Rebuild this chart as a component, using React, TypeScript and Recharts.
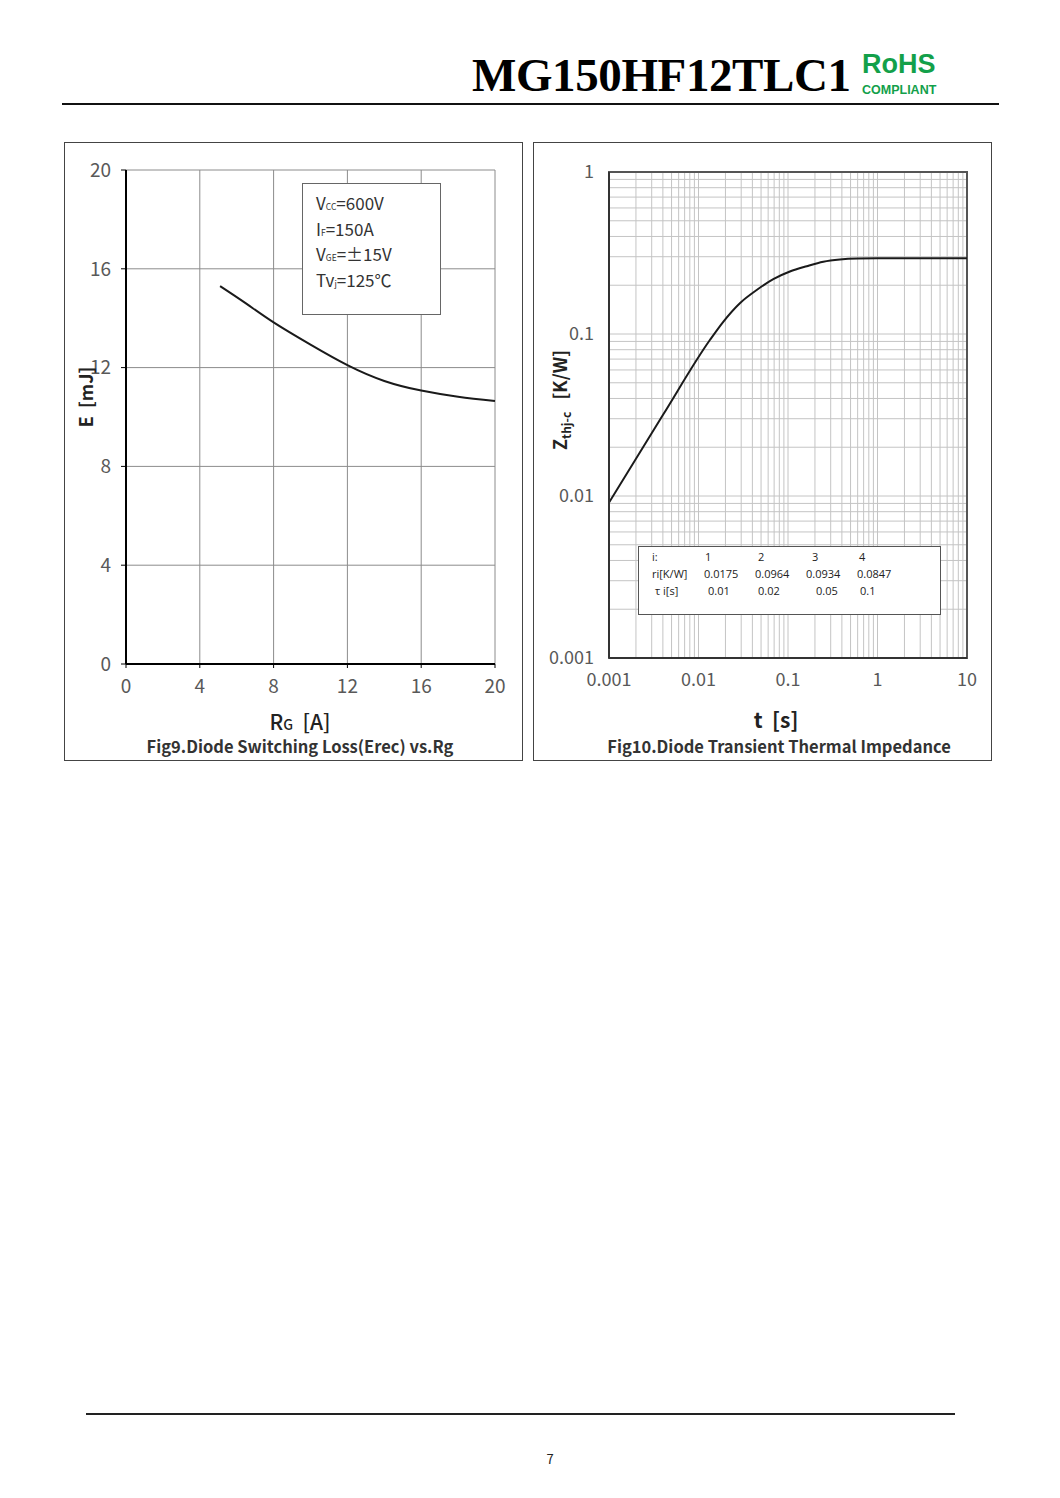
import React from "react"
import { CartesianGrid, Line, LineChart, ReferenceArea, XAxis, YAxis } from "recharts"

// Fig9 - diode switching loss vs gate resistance
const rgValues = [5.1, 6.5, 8, 10, 12, 14, 16, 18, 20]
const erecValues = [15.3, 14.6, 13.83, 12.93, 12.1, 11.46, 11.07, 10.82, 10.65]
const rgTicks = [0, 4, 8, 12, 16, 20]
const eTicks = [0, 4, 8, 12, 16, 20]

// Fig10 - transient thermal impedance
const timeValues = [0.001, 0.004, 0.0134, 0.0189, 0.029, 0.0447, 0.0685, 0.105, 0.162, 0.248, 0.38, 0.6, 1, 10]
const zthValues = [0.0091, 0.0316, 0.0918, 0.119, 0.155, 0.187, 0.218, 0.243, 0.262, 0.279, 0.288, 0.292, 0.293, 0.293]
const timeDecades = [0.001, 0.01, 0.1, 1, 10]
const zthDecades = [0.001, 0.01, 0.1, 1]
const logSteps = [1, 2, 3, 4, 5, 6, 7, 8, 9]

const tableIndex = ["1", "2", "3", "4"]
const tableR = ["0.0175", "0.0964", "0.0934", "0.0847"]
const tableTau = ["0.01", "0.02", "0.05", "0.1"]

const fig9Data = rgValues.map((rg, i) => ({ rg, e: erecValues[i] }))
const fig10Data = timeValues.map((t, i) => ({ t, z: zthValues[i] }))

const minorTicks = (decades: number[]) =>
  decades
    .slice(0, -1)
    .flatMap((d) => logSteps.map((s) => Number((d * s).toPrecision(3))))
    .concat(decades[decades.length - 1])

const timeTicks = minorTicks(timeDecades)
const zthTicks = minorTicks(zthDecades)

const SANS = "'Noto Sans CJK SC', 'Noto Sans', sans-serif"
const tickStyle = { fill: "#595959", fontSize: 18, fontFamily: SANS }

function Txt({ x, y, children, style }: any) {
  return (
    <div
      style={{
        position: "absolute",
        left: x,
        top: y,
        transform: "translate(-50%, -50%)",
        whiteSpace: "nowrap",
        lineHeight: 1,
        fontFamily: SANS,
        ...style,
      }}
    >
      {children}
    </div>
  )
}

function Cell({ x, y, children }: any) {
  return (
    <div
      style={{
        position: "absolute",
        left: x,
        top: y,
        transform: "translateY(-50%)",
        whiteSpace: "nowrap",
        lineHeight: 1,
        fontFamily: "'Open Sans', 'Noto Sans', sans-serif",
        fontSize: 11,
        color: "#222",
      }}
    >
      {children}
    </div>
  )
}

const sub = { fontSize: "0.5em" }

export default function App() {
  return (
    <div style={{ position: "absolute", left: 0, top: 0, width: 1060, height: 1498, background: "#fff" }}>
      {/* header */}
      <div
        style={{
          position: "absolute",
          left: 472,
          top: 52,
          fontFamily: "'Liberation Serif', serif",
          fontWeight: 700,
          fontSize: 47,
          lineHeight: 1,
          color: "#000",
          letterSpacing: -0.4,
        }}
      >
        MG150HF12TLC1
      </div>
      <div
        style={{
          position: "absolute",
          left: 862,
          top: 51,
          fontFamily: "'Liberation Sans', sans-serif",
          fontWeight: 700,
          fontSize: 27,
          lineHeight: 1,
          color: "#13a04a",
        }}
      >
        RoHS
      </div>
      <div
        style={{
          position: "absolute",
          left: 862,
          top: 84,
          fontFamily: "'Liberation Sans', sans-serif",
          fontWeight: 700,
          fontSize: 12.5,
          lineHeight: 1,
          color: "#13a04a",
        }}
      >
        COMPLIANT
      </div>
      <div style={{ position: "absolute", left: 62, top: 103, width: 937, height: 2, background: "#111" }} />

      {/* Fig9 panel */}
      <div style={{ position: "absolute", left: 64, top: 142, width: 457, height: 617, border: "1px solid #444" }} />
      <div style={{ position: "absolute", left: 64, top: 142 }}>
        <LineChart width={459} height={619} data={fig9Data} margin={{ top: 28, right: 28, bottom: 0, left: 0 }}>
          <CartesianGrid stroke="#8c8c8c" strokeWidth={1} />
          <XAxis
            dataKey="rg"
            type="number"
            domain={[0, 20]}
            ticks={rgTicks}
            interval={0}
            height={97}
            axisLine={{ stroke: "#000", strokeWidth: 2 }}
            tickLine={{ stroke: "#000" }}
            tickSize={4}
            tickMargin={12}
            tick={{ ...tickStyle, fontSize: 19 }}
          />
          <YAxis
            dataKey="e"
            type="number"
            domain={[0, 20]}
            ticks={eTicks}
            interval={0}
            width={62}
            axisLine={{ stroke: "#000", strokeWidth: 2 }}
            tickLine={{ stroke: "#000" }}
            tickSize={5}
            tickMargin={10}
            tick={{ ...tickStyle, fontSize: 19 }}
          />
          <Line
            dataKey="e"
            type="natural"
            stroke="#1a1a1a"
            strokeWidth={2}
            dot={false}
            isAnimationActive={false}
          />
        </LineChart>
      </div>
      <div
        style={{
          position: "absolute",
          left: 302,
          top: 183,
          width: 137,
          height: 130,
          border: "1px solid #666",
          background: "#fff",
        }}
      />
      {[
        <>V<span style={sub}>CC</span>=600V</>,
        <>I<span style={sub}>F</span>=150A</>,
        <>V<span style={sub}>GE</span>=±15V</>,
        <>Tv<span style={sub}>j</span>=125℃</>,
      ].map((c, i) => (
        <div
          key={i}
          style={{
            position: "absolute",
            left: 316,
            top: [202, 228, 253, 279][i],
            transform: "translateY(-50%)",
            fontFamily: SANS,
            fontSize: 17,
            lineHeight: 1,
            color: "#333",
            whiteSpace: "nowrap",
          }}
        >
          {c}
        </div>
      ))}
      <Txt x={85} y={397} style={{ transform: "translate(-50%, -50%) rotate(-90deg)", fontWeight: 700, fontSize: 18, color: "#222" }}>
        E&nbsp; [mJ]
      </Txt>
      <Txt x={300} y={721} style={{ fontSize: 21, color: "#222", fontWeight: 500 }}>
        R<span style={{ fontSize: 14 }}>G</span>&nbsp; [A]
      </Txt>
      <Txt x={300} y={746} style={{ fontSize: 16.5, fontWeight: 700, color: "#333" }}>
        Fig9.Diode Switching Loss(Erec) vs.Rg
      </Txt>

      {/* Fig10 panel */}
      <div style={{ position: "absolute", left: 533, top: 142, width: 457, height: 617, border: "1px solid #444" }} />
      <div style={{ position: "absolute", left: 533, top: 142 }}>
        <LineChart width={459} height={619} data={fig10Data} margin={{ top: 30, right: 25, bottom: 0, left: 0 }}>
          <CartesianGrid stroke="#c4c4c4" strokeWidth={1} />
          <XAxis
            dataKey="t"
            type="number"
            scale="log"
            domain={[0.001, 10]}
            allowDataOverflow
            ticks={timeTicks}
            interval={0}
            height={103}
            axisLine={{ stroke: "#333", strokeWidth: 2 }}
            tickLine={false}
            tickMargin={9}
            tick={tickStyle}
            tickFormatter={(v: number) => (timeDecades.includes(v) ? String(v) : "")}
          />
          <YAxis
            dataKey="z"
            type="number"
            scale="log"
            domain={[0.001, 1]}
            allowDataOverflow
            ticks={zthTicks}
            interval={0}
            width={76}
            axisLine={{ stroke: "#333", strokeWidth: 2 }}
            tickLine={false}
            tickMargin={9}
            tick={tickStyle}
            tickFormatter={(v: number) => (zthDecades.includes(v) ? String(v) : "")}
          />
          <ReferenceArea x1={0.001} x2={10} y1={0.001} y2={1} fill="none" stroke="#555" strokeWidth={2} />
          <Line
            dataKey="z"
            type="monotone"
            stroke="#1a1a1a"
            strokeWidth={2}
            dot={false}
            isAnimationActive={false}
          />
        </LineChart>
      </div>
      <div
        style={{
          position: "absolute",
          left: 638,
          top: 546,
          width: 301,
          height: 67,
          border: "1px solid #555",
          background: "#fff",
        }}
      />
      <Cell x={652} y={556}>i:</Cell>
      {tableIndex.map((v, i) => (
        <Cell key={"i" + i} x={[705, 758, 812, 859][i]} y={556}>{v}</Cell>
      ))}
      <Cell x={652} y={573}>ri[K/W]</Cell>
      {tableR.map((v, i) => (
        <Cell key={"r" + i} x={[704, 755, 806, 857][i]} y={573}>{v}</Cell>
      ))}
      <Cell x={655} y={590}>τ i[s]</Cell>
      {tableTau.map((v, i) => (
        <Cell key={"t" + i} x={[708, 758, 816, 860][i]} y={590}>{v}</Cell>
      ))}
      <Txt x={561} y={400} style={{ transform: "translate(-50%, -50%) rotate(-90deg)", fontWeight: 700, fontSize: 18, color: "#222" }}>
        Z<span style={{ fontSize: 12, verticalAlign: "-0.3em" }}>thj-c</span>&nbsp;&nbsp; [K/W]
      </Txt>
      <Txt x={776} y={719} style={{ fontSize: 21, fontWeight: 700, color: "#222" }}>
        t&nbsp; [s]
      </Txt>
      <Txt x={779} y={746} style={{ fontSize: 16.5, fontWeight: 700, color: "#333" }}>
        Fig10.Diode Transient Thermal Impedance
      </Txt>

      {/* footer */}
      <div style={{ position: "absolute", left: 86, top: 1413, width: 869, height: 2, background: "#222" }} />
      <Txt x={550} y={1458} style={{ fontSize: 13, color: "#222" }}>
        7
      </Txt>
    </div>
  )
}
